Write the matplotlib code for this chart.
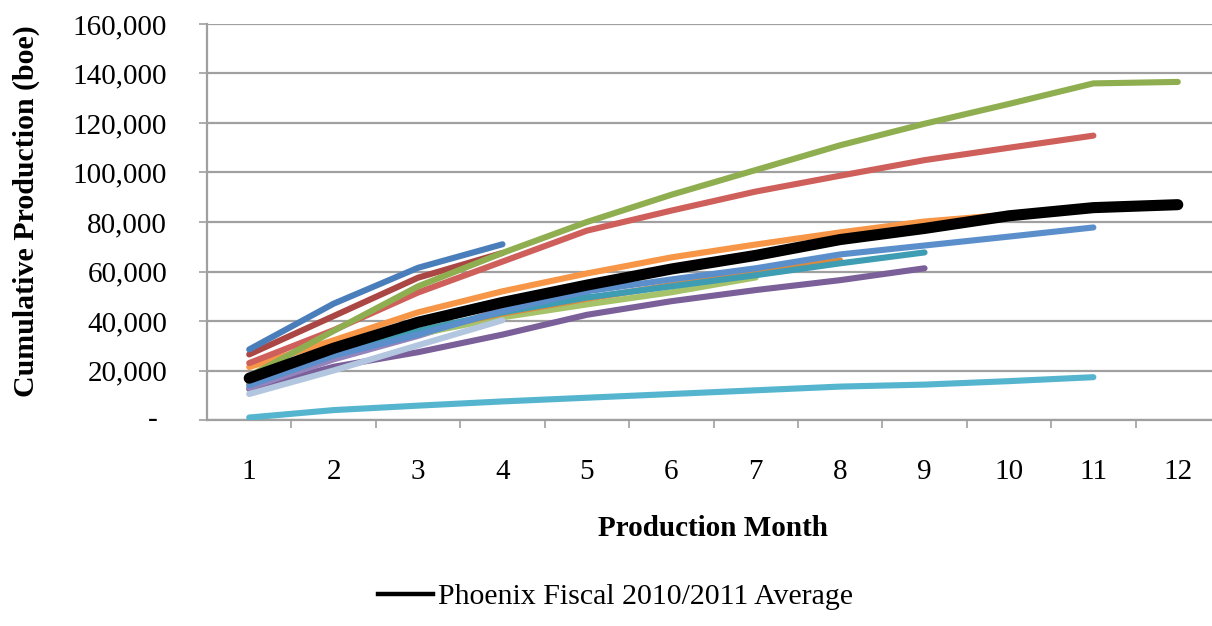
import matplotlib
matplotlib.use('Agg')
import matplotlib.pyplot as plt
from matplotlib.lines import Line2D
import numpy as np

plt.rcParams['font.family'] = ['Liberation Serif', 'DejaVu Serif']

# ---- data ----
months = list(range(1, 13))
month_labels = [str(m) for m in months]
yticks = [0, 20000, 40000, 60000, 80000, 100000, 120000, 140000, 160000]
ytick_labels = ['', '20,000', '40,000', '60,000', '80,000', '100,000',
                '120,000', '140,000', '160,000']
zero_label = '-'

well_cyan = [1000, 4000, 5800, 7500, 9000, 10500, 12000, 13500, 14300, 15700, 17300]
well_dark_purple = [12500, 21500, 27400, 34500, 42500, 48000, 52500, 56500, 61300]
well_light_purple = [13000, 24500, 34000, 44500, 50500]
well_light_blue = [10500, 20000, 30200, 40300]
well_light_green = [16500, 27800, 34700, 41500, 46700, 51600, 57600]
well_dark_orange = [14500, 28000, 36000, 43000, 49000, 54500, 59500, 64500]
well_teal = [15500, 27500, 36000, 43500, 49500, 54000, 58500, 63300, 67700]
well_mid_blue = [14000, 26000, 34500, 44000, 52000, 56800, 61300, 66900, 70500, 74100, 77800]
well_orange = [21400, 32200, 43500, 52000, 59200, 65700, 70900, 75800, 80200, 83000]
well_red = [23000, 36300, 51500, 64000, 76500, 84600, 92300, 98700, 105000, 110000, 114900]
well_dark_red = [26500, 42000, 57500, 67500]
well_green = [17700, 36000, 54000, 67500, 80000, 91000, 101000, 111000, 119700,
              127700, 136000, 136600]
well_blue = [28500, 47000, 61500, 71000]
average = [16900, 29000, 39500, 47500, 54500, 61000, 66500, 72900, 77400, 82500,
           85800, 87000]
average_label = 'Phoenix Fiscal 2010/2011 Average'

series = [
    (well_cyan, '#55B5CF'),
    (well_dark_purple, '#7A5F99'),
    (well_light_purple, '#9583BC'),
    (well_light_green, '#A6C36A'),
    (well_light_blue, '#B3C6E0'),
    (well_dark_orange, '#DA8A3F'),
    (well_teal, '#3E9DB3'),
    (well_mid_blue, '#5B8FCC'),
    (well_orange, '#F79646'),
    (well_red, '#CF5F5A'),
    (well_dark_red, '#AA4643'),
    (well_green, '#8FAE50'),
    (well_blue, '#4A7EBB'),
]

W, H = 1212, 626
fig = plt.figure(figsize=(W / 100, H / 100), dpi=100)
ax = fig.add_axes([207 / W, 1 - 420 / H, 1013 / W, 396 / H])
ax.set_xlim(0.5, 12.5)
ax.set_ylim(0, 160000)

grid_c = '#A0A0A0'
for i, (vals, col) in enumerate(series):
    ax.plot(months[:len(vals)], vals, color=col, lw=4.4, solid_capstyle='round',
            solid_joinstyle='round', zorder=3 + i * 0.01)
ax.plot(months[:len(average)], average, color='black', lw=8,
        solid_capstyle='round', solid_joinstyle='round', zorder=4)

# y axis
ax.set_yticks(yticks)
ax.set_yticklabels(ytick_labels)
ax.tick_params(axis='y', direction='out', length=5.8, width=1.2, color=grid_c,
               pad=23, labelsize=21)
ax.grid(axis='y', color=grid_c, linewidth=1.6, zorder=1)
ax.set_axisbelow(True)
ax.annotate(zero_label, xy=(0, 0), xycoords=('axes fraction', 'data'),
            xytext=(-38.9, 0), textcoords='offset points', ha='center',
            va='center', fontsize=21)

# x axis (category style: ticks between categories, labels centred)
ax.set_xticks(months)
ax.set_xticklabels(month_labels)
ax.set_xticks(np.arange(1.5, 12.5, 1), minor=True)
ax.tick_params(axis='x', which='major', length=0, pad=28, labelsize=21)
ax.tick_params(axis='x', which='minor', direction='out', length=5.8, width=1.2,
               color=grid_c)

for s in ['top', 'right']:
    ax.spines[s].set_visible(False)
for s in ['left', 'bottom']:
    ax.spines[s].set_color(grid_c)
    ax.spines[s].set_linewidth(1.6)

ax.set_ylabel('Cumulative Production (boe)', fontsize=21.5, fontweight='bold')
ax.yaxis.set_label_coords((26 - 207) / 1013, (420 - 211) / 396)
ax.yaxis.label.set_va('center')
ax.set_xlabel('Production Month', fontsize=21, fontweight='bold')
ax.xaxis.set_label_coords(0.5, (420 - 528) / 396)
ax.xaxis.label.set_va('center')

proxy = Line2D([0], [0], color='black', lw=3.2)
fig.legend([proxy], [average_label], loc='center left',
           bbox_to_anchor=(378 / W, 1 - 597 / H), frameon=False,
           handlelength=1.83, handletextpad=0.17, borderpad=0,
           borderaxespad=0, fontsize=21.5)

fig.savefig('out.png', dpi=100)
